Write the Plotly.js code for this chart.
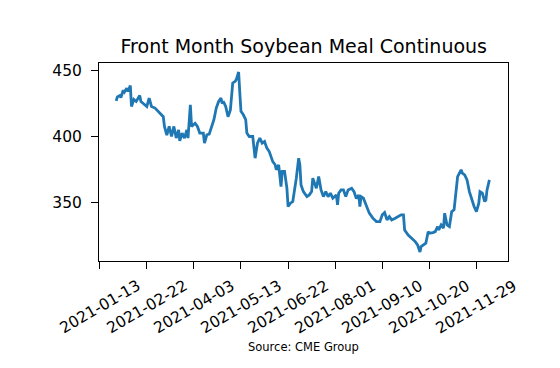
<!DOCTYPE html>
<html>
<head>
<meta charset="utf-8">
<script src="https://cdn.plot.ly/plotly-3.0.1.min.js"></script>
<style>html,body{margin:0;padding:0;background:#fff;}#chart{width:560px;height:368px;}</style>
</head>
<body>
<div id="chart"></div>
<script>
const dates = [
'2021-01-27','2021-01-28','2021-01-30','2021-01-31','2021-02-02','2021-02-03','2021-02-05','2021-02-06','2021-02-08','2021-02-09',
'2021-02-11','2021-02-13','2021-02-16','2021-02-17','2021-02-19','2021-02-22','2021-02-24','2021-02-26','2021-03-01','2021-03-03',
'2021-03-06','2021-03-08','2021-03-09','2021-03-11','2021-03-13','2021-03-15','2021-03-17','2021-03-19','2021-03-21','2021-03-22',
'2021-03-24','2021-03-26','2021-03-28','2021-03-29','2021-03-31','2021-04-01','2021-04-04','2021-04-06','2021-04-08','2021-04-11',
'2021-04-12','2021-04-14','2021-04-16','2021-04-18','2021-04-20','2021-04-22','2021-04-24','2021-04-26','2021-04-27','2021-04-28',
'2021-04-30','2021-05-02','2021-05-04','2021-05-06','2021-05-08','2021-05-09','2021-05-11','2021-05-12','2021-05-13','2021-05-15',
'2021-05-17','2021-05-18','2021-05-20','2021-05-23','2021-05-25','2021-05-27','2021-05-29','2021-05-31','2021-06-02','2021-06-04',
'2021-06-06','2021-06-07','2021-06-09','2021-06-11','2021-06-12','2021-06-14','2021-06-15','2021-06-16','2021-06-17','2021-06-19',
'2021-06-21','2021-06-22','2021-06-24','2021-06-26','2021-06-29','2021-07-01','2021-07-02','2021-07-03','2021-07-05','2021-07-08',
'2021-07-10','2021-07-12','2021-07-13','2021-07-15','2021-07-16','2021-07-18','2021-07-20','2021-07-22','2021-07-24','2021-07-26',
'2021-07-28','2021-07-30','2021-08-02','2021-08-03','2021-08-04','2021-08-06','2021-08-08','2021-08-10','2021-08-12','2021-08-15',
'2021-08-17','2021-08-19','2021-08-21','2021-08-22','2021-08-23','2021-08-25','2021-08-28','2021-08-30','2021-09-02','2021-09-05',
'2021-09-08','2021-09-10','2021-09-12','2021-09-14','2021-09-16','2021-09-18','2021-09-21','2021-09-23','2021-09-26','2021-09-28',
'2021-09-29','2021-10-02','2021-10-05','2021-10-08','2021-10-10','2021-10-12','2021-10-13','2021-10-15','2021-10-17','2021-10-19',
'2021-10-20','2021-10-23','2021-10-25','2021-10-27','2021-10-28','2021-10-30','2021-11-01','2021-11-02','2021-11-04','2021-11-06',
'2021-11-08','2021-11-10','2021-11-12','2021-11-13','2021-11-16','2021-11-17','2021-11-19','2021-11-21','2021-11-23','2021-11-25',
'2021-11-27','2021-11-29','2021-12-01','2021-12-02','2021-12-04','2021-12-06','2021-12-07','2021-12-08','2021-12-10'
];
const prices = [
427,430,431,429.5,435,433.6,436.6,434,438.6,422.7,
428,426.5,431,426.5,425,422.7,429,422.7,421.5,419.5,
416.4,415,407.6,401,407.6,400,407.6,398.8,405,396.7,
402.6,398.8,405,398.8,424,407.6,410,407.6,402.6,402.6,
395,401.3,401.8,407.6,412.7,421.5,426.5,429,425,426.5,
422.7,415,420,440.5,441.7,443,448.8,433,419,416.4,
412.7,402.6,400,400,383.6,395,398.8,395,396.2,391.2,
388.6,386.1,381,378.6,374.8,378.6,372.3,362.1,373.5,373.5,
360.9,347,349.5,350.8,368.5,383.6,378.6,363.4,358.3,354.5,
355.8,358.3,368.5,362.1,360.9,369.7,359.6,354.5,358.3,354.5,
357.1,353.3,355.8,348.3,357.1,359.6,359.6,354.5,359.6,360.9,
358.3,353,355.8,347,354.5,353.3,347,342,338.2,335.6,
335.6,340.7,342.4,336.9,339.4,336.9,338.2,339.4,340.7,340.7,
329.3,325.5,323,320.5,318,312.6,316.7,318,319.3,328,
326.8,327.3,328,331.8,329.3,333.1,330.6,342,333.1,331.8,
343.2,344.5,364.7,369.7,374.8,372.3,371,367.2,358.3,352,
347,343.2,349.5,358.3,357.1,350.8,352,359.6,367.2
];
const xTickDates = ['2021-01-13','2021-02-22','2021-04-03','2021-05-13','2021-06-22','2021-08-01','2021-09-10','2021-10-20','2021-11-29'];
const xTickLabels = ['2021-01-13','2021-02-22','2021-04-03','2021-05-13','2021-06-22','2021-08-01','2021-09-10','2021-10-20','2021-11-29'];
const yTickVals = [350, 400, 450];
const yTickLabels = ['350', '400', '450'];
const chartTitle = 'Front Month Soybean Meal Continuous';
const sourceNote = 'Source: CME Group';

const FONT = 'DejaVu Sans, Verdana, sans-serif';

const annotations = xTickDates.map((d, i) => ({
  x: d, xref: 'x', y: -0.071, yref: 'paper',
  text: xTickLabels[i], showarrow: false, textangle: -30,
  xanchor: 'center', yanchor: 'top', borderpad: 0,
  font: {family: FONT, size: 15.5, color: '#000'}
}));
annotations.push({
  x: 0.5, xref: 'paper', y: -0.434, yref: 'paper',
  text: sourceNote, showarrow: false, xanchor: 'center', yanchor: 'middle',
  font: {family: FONT, size: 11.5, color: '#000'}
});

const trace = {
  x: dates, y: prices, type: 'scatter', mode: 'lines',
  line: {color: '#1f77b4', width: 2.8},
  hoverinfo: 'skip'
};

const layout = {
  width: 560, height: 368,
  margin: {l: 99, r: 52, t: 63, b: 107},
  paper_bgcolor: '#fff', plot_bgcolor: '#fff',
  showlegend: false,
  font: {family: FONT, color: '#000'},
  title: {
    text: chartTitle, x: 0.5425, xanchor: 'center', xref: 'container',
    y: 1 - 46.5/368, yref: 'container', yanchor: 'middle',
    font: {family: FONT, size: 19, color: '#000'}
  },
  xaxis: {
    type: 'date', range: ['2021-01-12 09:36', '2021-12-25 19:12'],
    tickmode: 'array', tickvals: xTickDates, showticklabels: false,
    ticks: 'outside', ticklen: 7, tickwidth: 1, tickcolor: '#000',
    showgrid: false, zeroline: false,
    showline: true, linecolor: '#000', linewidth: 1, mirror: true
  },
  yaxis: {
    range: [305.8, 455.6],
    tickmode: 'array', tickvals: yTickVals, ticktext: yTickLabels,
    ticks: 'outside', ticklen: 7, tickwidth: 1, tickcolor: '#000',
    ticklabelstandoff: 6,
    tickfont: {family: FONT, size: 15.5, color: '#000'},
    showgrid: false, zeroline: false,
    showline: true, linecolor: '#000', linewidth: 1, mirror: true
  },
  annotations: annotations
};

Plotly.newPlot('chart', [trace], layout, {displayModeBar: false, staticPlot: true});
</script>
</body>
</html>
